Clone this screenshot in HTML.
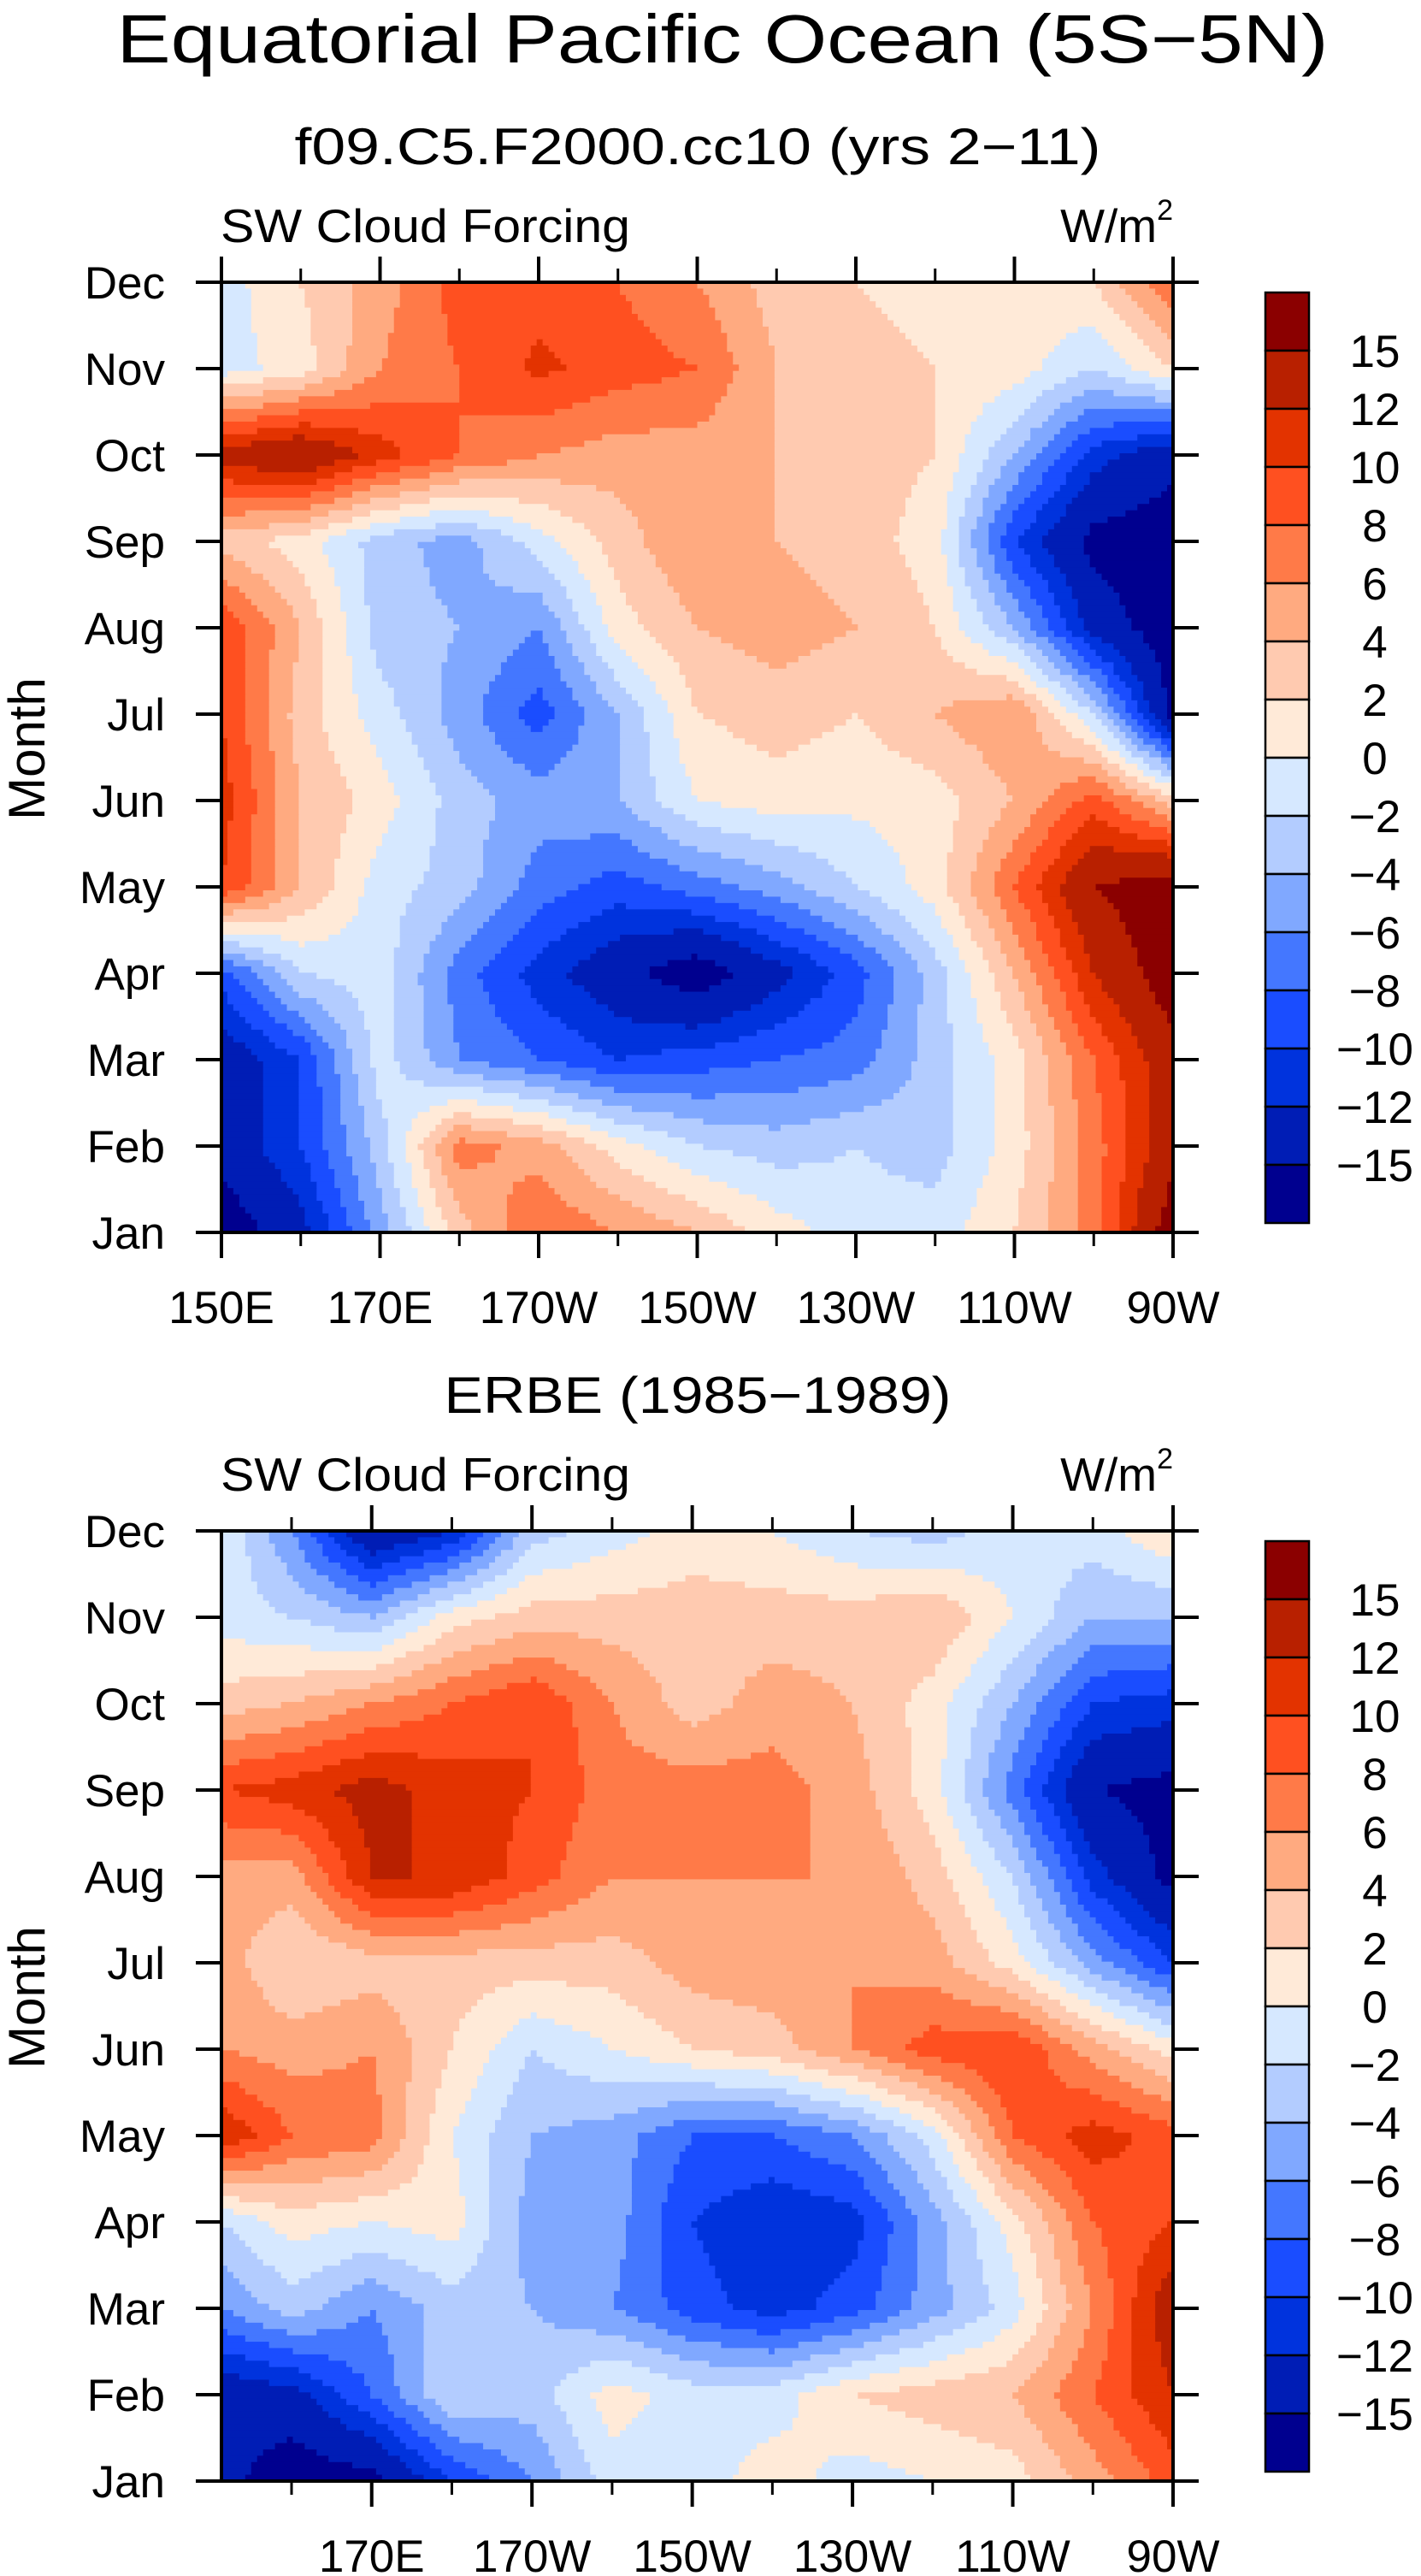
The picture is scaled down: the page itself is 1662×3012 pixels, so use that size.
<!DOCTYPE html>
<html><head><meta charset="utf-8"><style>
html,body{margin:0;padding:0;background:#fff;}
svg{display:block;}
text{font-family:"Liberation Sans",sans-serif;fill:#000;}
</style></head>
<body>
<svg id="fig" width="1662" height="3012" viewBox="0 0 1662 3012" xmlns="http://www.w3.org/2000/svg">
<text x="845" y="73" font-size="80" text-anchor="middle" textLength="1417" lengthAdjust="spacingAndGlyphs">Equatorial Pacific Ocean (5S−5N)</text>
<text x="816" y="192" font-size="60" text-anchor="middle" textLength="943" lengthAdjust="spacingAndGlyphs">f09.C5.F2000.cc10 (yrs 2−11)</text>
<text x="816" y="1652" font-size="60" text-anchor="middle" textLength="593" lengthAdjust="spacingAndGlyphs">ERBE (1985−1989)</text>
<g id="p1"></g>
<g id="p2"></g>
</svg>
<script>
const months = ["Jan","Feb","Mar","Apr","May","Jun","Jul","Aug","Sep","Oct","Nov","Dec"];
const levels = [-15,-12,-10,-8,-6,-4,-2,0,2,4,6,8,10,12,15];
const levelLabels = ["15","12","10","8","6","4","2","0","−2","−4","−6","−8","−10","−12","−15"];
const colors = ["#00008f","#001db5","#0033dd","#1a4dff","#4477ff","#80a8ff","#b3ccff","#d6e8ff","#ffead8","#ffcab0","#ffaa80","#ff7a48","#ff5020","#e33300","#b82000","#8b0000"];
const lonTicks = [150,170,190,210,230,250,270];
const lonTickLabels = ["150E","170E","170W","150W","130W","110W","90W"];

const lonsModel = [150,160,170,180,190,200,210,220,230,240,250,260,270];
// rows Jan..Dec
const model = [
[-17,-13,-5,3,8,6,4,1,-1,-1,2,7,17],
[-14,-10,-3,7,5,1,-2,-3,-2,-3,1,7,14],
[-14,-10,-1,-6,-8,-10,-9,-8,-7,-3,1,8,14],
[-9,-2,-1,-7,-11,-14,-17,-13,-9,-3,4,12,17],
[10,4,-1,-3,-7,-9,-7,-5,-2,1,8,15,17],
[11,4,1,-3,-5,-4,0,1,0.5,1,4,9,3],
[10,3,-1,-5,-9,-4,2,3,2,4,6,-2,-16],
[10,4,-3,-4,-6,1,4,5,4,2,-4,-13,-17],
[3,1,-3,-5,-1,3,6,4,3,1,-10,-16,-17],
[13,15,11,8,6,5,5,4,3,2,-4,-11,-14],
[-1,1,6,8,10.5,9,8,4,3,2,1,-2,2],
[-1,2,5,9,9,8,6,3,2,1,1,2,8]
];
const lonsErbe = [151.25,160,170,180,190,200,210,220,230,240,250,260,270];
const erbe = [
[-14,-17,-16,-10,-6,-1,-1,1,-1,0,1,5,9],
[-14,-13,-8,-2,-3,1,-1,-1,2,3,4,8,12],
[-6,-3,-6,-3,-4,-6,-9,-11,-9,-5,-1,6,14],
[-2,1,0,1,-5,-5,-10,-12,-11,-5,1,8,10],
[12,8,7,0,-4,-5,-8,-8,-6,-1,8,11,9],
[6,5,6,2,-2,0,2,3,6,9,10,5,1],
[5,2,3,3,3,3,5,5.5,6,5,1,-5,-10],
[5,5,12,12,9,6,6,6,6,3,-2,-11,-16],
[10,11,13,11,10,7,7,7,5,1,-7,-15,-16],
[3,4,6,8,10,6,3,5,4,1,-4,-10,-11],
[-1,-2,-4,1,3,3,3,3,3,4,0,-4,-4],
[0,-6,-15,-12,-3,-1,1,0,-2,-3,-1,-1,2]
];

const NS = "http://www.w3.org/2000/svg";
function mk(tag, attrs, parent){const e=document.createElementNS(NS,tag);for(const k in attrs)e.setAttribute(k,attrs[k]);parent.appendChild(e);return e;}
function colorFor(v){v+=1e-6;let i=0;while(i<levels.length && v>=levels[i])i++;return colors[i];}
function sample(lons,grid,lon,m){
  let i=0;while(i<lons.length-2 && lon>lons[i+1])i++;
  let fx=(lon-lons[i])/(lons[i+1]-lons[i]);fx=Math.max(0,Math.min(1,fx));
  let j=Math.min(10,Math.floor(m));let fy=m-j;
  const a=grid[j][i],b=grid[j][i+1],c=grid[j+1][i],d=grid[j+1][i+1];
  return a*(1-fx)*(1-fy)+b*fx*(1-fy)+c*(1-fx)*fy+d*fx*fy;
}
function panel(g,top,lonMin,lons,grid,name){
  const L=259,R=1372,T=top,B=top+1111;
  const xS=lon=>L+(lon-lonMin)/(270-lonMin)*(R-L);
  const yS=m=>B-m/11*(B-T);
  const nx=160,ny=150;
  const cw=(R-L)/nx,ch=(B-T)/ny;
  const fg=mk("g",{},g);
  
  
  for(let r=0;r<ny;r++){
    const m=11-(r+0.5)/ny*11;
    let start=0,cur=null;
    for(let c=0;c<=nx;c++){
      let col=null;
      if(c<nx){const lon=lonMin+(c+0.5)/nx*(270-lonMin);col=colorFor(sample(lons,grid,lon,m));}
      if(col!==cur){
        if(cur!==null){
          const rc=mk("rect",{x:(L+start*cw).toFixed(2),y:(T+r*ch).toFixed(2),width:((c-start)*cw+0.6).toFixed(2),height:(ch+0.6).toFixed(2),fill:cur},fg);
          
          
        }
        start=c;cur=col;
      }
    }
  }
  const fr=mk("rect",{x:L,y:T,width:R-L,height:B-T,fill:"none",stroke:"#000","stroke-width":4},g);
  
  
  months.forEach((mn,k)=>{
    const y=yS(k);
    const t1=mk("line",{x1:L-30,x2:L,y1:y,y2:y,stroke:"#000","stroke-width":4},g);
    
    
    const t2=mk("line",{x1:R,x2:R+30,y1:y,y2:y,stroke:"#000","stroke-width":4},g);
    
    
    const tx=mk("text",{x:193,y:y+19,"font-size":53,"text-anchor":"end"},g);
    tx.textContent=mn;
    
    
  });
  for(let lon=Math.ceil(lonMin/10)*10;lon<=270;lon+=10){
    const x=xS(lon);const major=lonTicks.includes(lon);const len=major?30:16;
    const a=mk("line",{x1:x,x2:x,y1:B,y2:B+len,stroke:"#000","stroke-width":major?4:3},g);
    
    
    const b=mk("line",{x1:x,x2:x,y1:T-len,y2:T,stroke:"#000","stroke-width":major?4:3},g);
    
    
  }
  lonTicks.forEach((lon,k)=>{
    if(lon<lonMin)return;
    const tx=mk("text",{x:xS(lon),y:B+106,"font-size":53,"text-anchor":"middle"},g);
    tx.textContent=lonTickLabels[k];
    
    
  });
  const mt=mk("text",{x:52,y:(T+B)/2-10,"font-size":60,"text-anchor":"middle",transform:`rotate(-90 52 ${(T+B)/2-10})`},g);
  mt.textContent="Month";
  
  
  const sw=mk("text",{x:258,y:T-47,"font-size":55,textLength:479,lengthAdjust:"spacingAndGlyphs"},g);
  sw.textContent="SW Cloud Forcing";
  
  
  const un=mk("text",{x:1372,y:T-47,"font-size":55,"text-anchor":"end"},g);
  
  
  const t1=mk("tspan",{},un);
  t1.textContent="W/m";
  const t2=mk("tspan",{"font-size":34,dy:-26},un);
  t2.textContent="2";
  // colorbar
  const cb=mk("g",{},g);
  
  
  const cT=T+12,bh=68;
  for(let k=0;k<colors.length;k++){
    const rc=mk("rect",{x:1480,y:cT+k*bh,width:51,height:bh,fill:colors[colors.length-1-k],stroke:"#000","stroke-width":2.5},cb);
    
    
  }
  levelLabels.forEach((lb,k)=>{
    const tx=mk("text",{x:1608,y:cT+(k+1)*bh+19,"font-size":53,"text-anchor":"middle"},cb);
    tx.textContent=lb;
    
    
  });
}
panel(document.getElementById("p1"),330,150,lonsModel,model,"model");
panel(document.getElementById("p2"),1790,151.25,lonsErbe,erbe,"erbe");
</script>
</body></html>
